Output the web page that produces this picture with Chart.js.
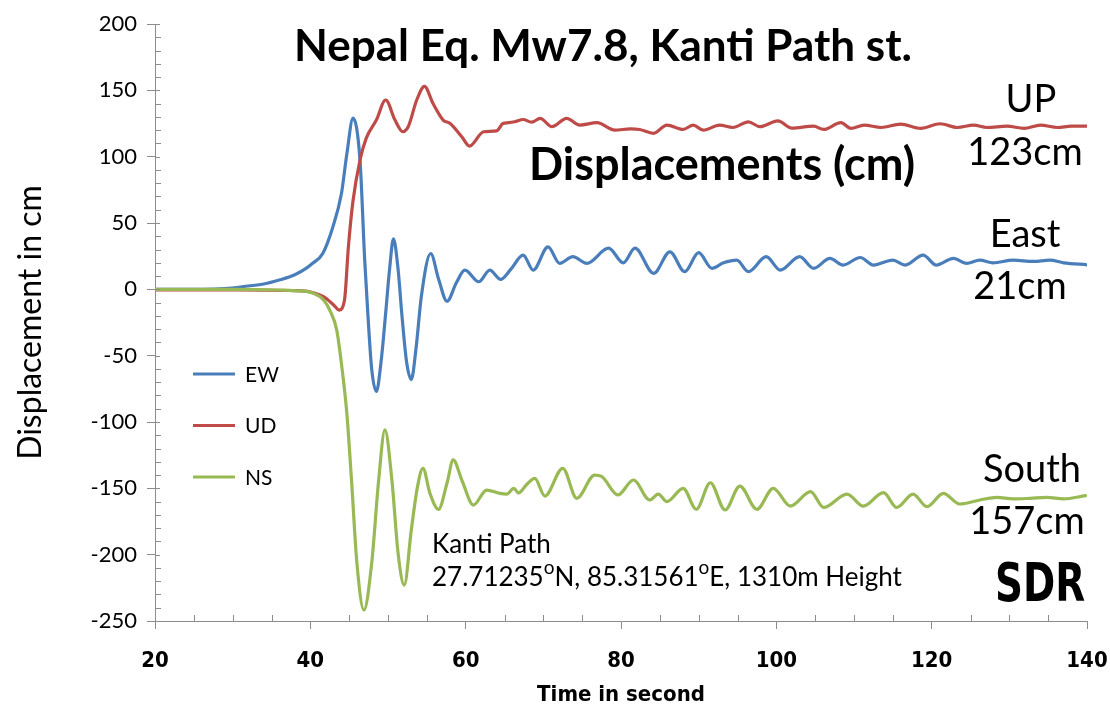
<!DOCTYPE html>
<html><head><meta charset="utf-8">
<script src="https://cdn.jsdelivr.net/npm/chart.js@4.4.1/dist/chart.umd.min.js"></script>
<style>html,body{margin:0;padding:0;background:#fff;}#wrap{width:1110px;height:709px;}</style>
</head><body><div id="wrap"><canvas id="c" width="1110" height="709"></canvas></div>
<script>
// ---- data (time in s, displacement in cm) ----
const ewTime = [20,26,29,32,34,36,38,39.5,40.3,41.6,42.9,44.0,44.7,45.5,46.4,47.0,47.4,47.9,48.5,49.1,49.7,50.2,50.7,51.3,51.8,52.4,53.0,53.6,54.3,55.5,56.5,57.6,58.8,59.9,61.7,63.1,64.5,65.8,67.4,68.7,70.6,72.1,73.8,75.6,78.4,80.3,81.8,84.2,86.3,88.2,90.0,91.7,93.2,94.9,96.4,98.7,100.5,103.0,104.8,106.9,108.6,110.8,112.5,115.0,116.6,118.9,120.6,122.8,124.5,126.2,127.9,130.5,133.1,135.2,137.0,140];
const ewDisp = [0,0,0.5,2.5,4,7,11,16,19.6,27,47,72,102,129,97,22,-18,-60,-77,-55,-18,15,38,15,-20,-55,-68,-45,-5,27,8,-9,5,14.5,5.7,14.5,7.5,15,25.8,14.5,32,19.6,24.6,19.6,31,20,31,12,28.3,13.3,27.6,15.8,20,22,13.3,24.6,14.5,24.6,15.8,23.4,18.3,24,18.3,22,18.3,25.8,18.3,23.4,19.6,22,20,22,21,22,20,18.5];

const udTime = [20,30,38,40,41.7,43.0,43.7,44.4,44.9,45.5,46.4,47.2,48.5,49.7,50.9,51.9,52.6,53.7,54.7,55.8,57.1,58.0,59.5,60.5,62.3,64.0,64.8,65.5,66.3,67.4,68.5,69.6,71.1,73.0,74.7,76.9,79.2,81.2,82.4,84.2,85.9,88.0,89.3,90.6,92.7,94.4,96.4,97.9,100.2,102.0,104.8,106.1,108.3,109.6,111.3,113.5,116.0,118.6,121.1,123.3,125.4,127.1,129.7,131.9,134.0,136.2,138.0,140];
const udDisp = [-0.5,-0.5,-1,-2,-5.5,-11.8,-15.6,-8,32,67,97.5,114,127.6,142.7,127.6,118.8,122.5,142.7,153,140,127.6,125,115,108,118.8,119.5,125,125.6,126.3,128,126,128.9,122.6,128.9,123.8,125.6,120,121,120.5,117.6,123.8,120.5,123.8,120,123.8,122,126.3,122.6,127,121.5,123,120.5,125.6,121.3,123.8,122,124.5,121.3,124.8,122,123.8,122,123,121.3,123.8,122,123,123];

const nsTime = [20,30,36,38,40.4,41.7,42.5,43.4,44.0,44.7,45.3,46.0,46.9,47.9,48.8,49.6,50.5,51.3,52.1,53.0,53.8,54.5,55.4,56.5,57.6,58.4,59.5,61.0,62.7,64.4,65.3,66.2,66.8,67.8,68.9,70.2,72.5,74.3,76.6,77.5,79.6,81.6,83.7,84.8,85.9,88.0,89.7,91.5,93.4,95.3,97.5,99.6,101.8,104.4,106.1,109.1,111.2,113.8,115.5,117.6,119.4,121.5,123.6,126.2,128.4,130.5,132.7,134.8,137.0,139.8];
const nsDisp = [0,0,-0.5,-1,-3,-8,-15.6,-30.7,-55.8,-93.5,-143.7,-206.5,-241.7,-206.5,-143.7,-106,-143.7,-199,-222.9,-181.4,-148.7,-134.9,-153.8,-165.8,-146,-128.6,-143.7,-162.6,-151.3,-153.8,-154.3,-150,-153.5,-147.5,-142.5,-155.8,-134.9,-157.5,-140,-141,-155,-143.7,-158.8,-154.3,-160,-150,-165.8,-145.8,-166.3,-148.3,-165.8,-150,-163.4,-152.5,-164.4,-154.3,-163.4,-153.3,-164.4,-154.3,-163.9,-153.8,-161.8,-158.8,-156.8,-158,-157.5,-156.8,-158,-155.5];

const seriesNames = ['EW','UD','NS'];
const seriesColors = ['#4A7EBB','#BE4B48','#98B954'];
const yTicksMajor = [-250,-200,-150,-100,-50,0,50,100,150,200];
const xTicksMajor = [20,40,60,80,100,120,140];

const toPts = (t, d) => t.map((v, i) => ({x: v, y: d[i]}));

const AXIS_COLOR = '#8c8c8c';
const FONT = 'Lato, "Open Sans", sans-serif';

const minorTicks = {
  id: 'minorTicks',
  afterDraw(chart) {
    const {ctx, scales: {x, y}} = chart;
    ctx.save();
    ctx.strokeStyle = AXIS_COLOR; ctx.lineWidth = 1;
    for (let v = -250; v <= 200; v += 10) {
      if (v % 50 === 0) continue;
      const py = Math.round(y.getPixelForValue(v)) + 0.5;
      ctx.beginPath(); ctx.moveTo(x.left, py); ctx.lineTo(x.left + 6, py); ctx.stroke();
    }
    for (let v = 20; v <= 140; v += 5) {
      if (v % 20 === 0) continue;
      const px = Math.round(x.getPixelForValue(v)) + 0.5;
      ctx.beginPath(); ctx.moveTo(px, y.bottom); ctx.lineTo(px, y.bottom - 6); ctx.stroke();
    }
    for (const v of yTicksMajor) {
      const py = Math.round(y.getPixelForValue(v)) + 0.5;
      ctx.beginPath(); ctx.moveTo(x.left, py); ctx.lineTo(x.left + 5, py); ctx.stroke();
    }
    ctx.restore();
  }
};

const annotations = {
  id: 'annotations',
  afterDraw(chart) {
    const ctx = chart.ctx;
    ctx.save();
    ctx.fillStyle = '#000';
    ctx.textBaseline = 'middle';
    ctx.textAlign = 'center';
    ctx.font = 'bold 44px ' + FONT;
    ctx.fillText('Nepal Eq. Mw7.8, Kanti Path st.', 603, 47);
    ctx.font = 'bold 45px ' + FONT;
    ctx.fillText('Displacements (cm)', 722, 165);
    ctx.font = '38px ' + FONT;
    ctx.fillText('UP', 1031, 100);
    ctx.fillText('123cm', 1025, 153);
    ctx.fillText('East', 1025, 235);
    ctx.fillText('21cm', 1020, 287);
    ctx.fillText('South', 1032, 470);
    ctx.fillText('157cm', 1027, 522);

    // station info
    ctx.textAlign = 'left';
    ctx.font = '26px ' + FONT;
    ctx.fillText('Kanti Path', 432, 545);
    const parts = [['27.71235', false], ['o', true], ['N, 85.31561', false], ['o', true], ['E, 1310m Height', false]];
    let cx = 432;
    for (const [s, sup] of parts) {
      ctx.font = (sup ? '19px ' : '26px ') + FONT;
      ctx.fillText(s, cx, sup ? 568 : 578);
      cx += ctx.measureText(s).width;
    }

    // legend
    const ds = chart.data.datasets;
    ctx.font = '21px ' + FONT;
    ds.forEach((d, i) => {
      const ly = 374 + i * 51.5;
      ctx.strokeStyle = d.borderColor; ctx.lineWidth = 3;
      ctx.beginPath(); ctx.moveTo(193, ly); ctx.lineTo(235, ly); ctx.stroke();
      ctx.fillStyle = '#000';
      ctx.fillText(d.label, 245, ly + 1);
    });

    // SDR logo
    ctx.save();
    ctx.translate(1040, 587);
    ctx.scale(0.72, 1.0);
    ctx.textAlign = 'center';
    ctx.font = 'bold 54px "DejaVu Sans", sans-serif';
    ctx.fillText('SDR', 0, 0);
    ctx.restore();
    ctx.restore();
  }
};

const datasets = [
  {label: seriesNames[0], data: toPts(ewTime, ewDisp), borderColor: seriesColors[0], order: 2},
  {label: seriesNames[1], data: toPts(udTime, udDisp), borderColor: seriesColors[1], order: 1},
  {label: seriesNames[2], data: toPts(nsTime, nsDisp), borderColor: seriesColors[2], order: 0}
].map(d => Object.assign(d, {borderWidth: 3.2, pointRadius: 0, fill: false, cubicInterpolationMode: 'monotone', borderCapStyle: 'round', borderJoinStyle: 'round'}));

new Chart(document.getElementById('c'), {
  type: 'line',
  data: {datasets},
  options: {
    responsive: false,
    animation: false,
    devicePixelRatio: 1,
    layout: {padding: {left: 0, right: 23, top: 24, bottom: 0}},
    plugins: {legend: {display: false}, tooltip: {enabled: false}, title: {display: false}},
    scales: {
      x: {
        type: 'linear', min: 20, max: 140,
        afterBuildTicks: s => { s.ticks = xTicksMajor.map(v => ({value: v})); },
        afterFit: s => { s.height = 88; s.paddingLeft = 0; s.paddingRight = 0; },
        grid: {drawOnChartArea: false, drawTicks: true, tickLength: 8, color: AXIS_COLOR},
        border: {color: AXIS_COLOR, width: 1},
        ticks: {color: '#000', padding: 19, maxRotation: 0,
          font: {family: "'Liberation Sans Narrow', 'DejaVu Sans Condensed', sans-serif", size: 22, weight: 'bold'}},
        title: {display: true, text: 'Time in second', color: '#000', padding: {top: 0, bottom: 1},
          font: {family: "'Liberation Sans Narrow', 'DejaVu Sans Condensed', sans-serif", size: 22, weight: 'bold'}}
      },
      y: {
        type: 'linear', min: -250, max: 200,
        afterBuildTicks: s => { s.ticks = yTicksMajor.map(v => ({value: v})); },
        afterFit: s => { s.width = 155; s.paddingTop = 0; s.paddingBottom = 0; },
        grid: {drawOnChartArea: false, drawTicks: true, tickLength: 8, color: AXIS_COLOR},
        border: {color: AXIS_COLOR, width: 1},
        ticks: {color: '#000', padding: 10,
          font: {family: FONT, size: 22}},
        title: {display: true, text: 'Displacement in cm', color: '#000', padding: {top: 11, bottom: 0},
          font: {family: FONT, size: 32}}
      }
    }
  },
  plugins: [minorTicks, annotations]
});
</script></body></html>
